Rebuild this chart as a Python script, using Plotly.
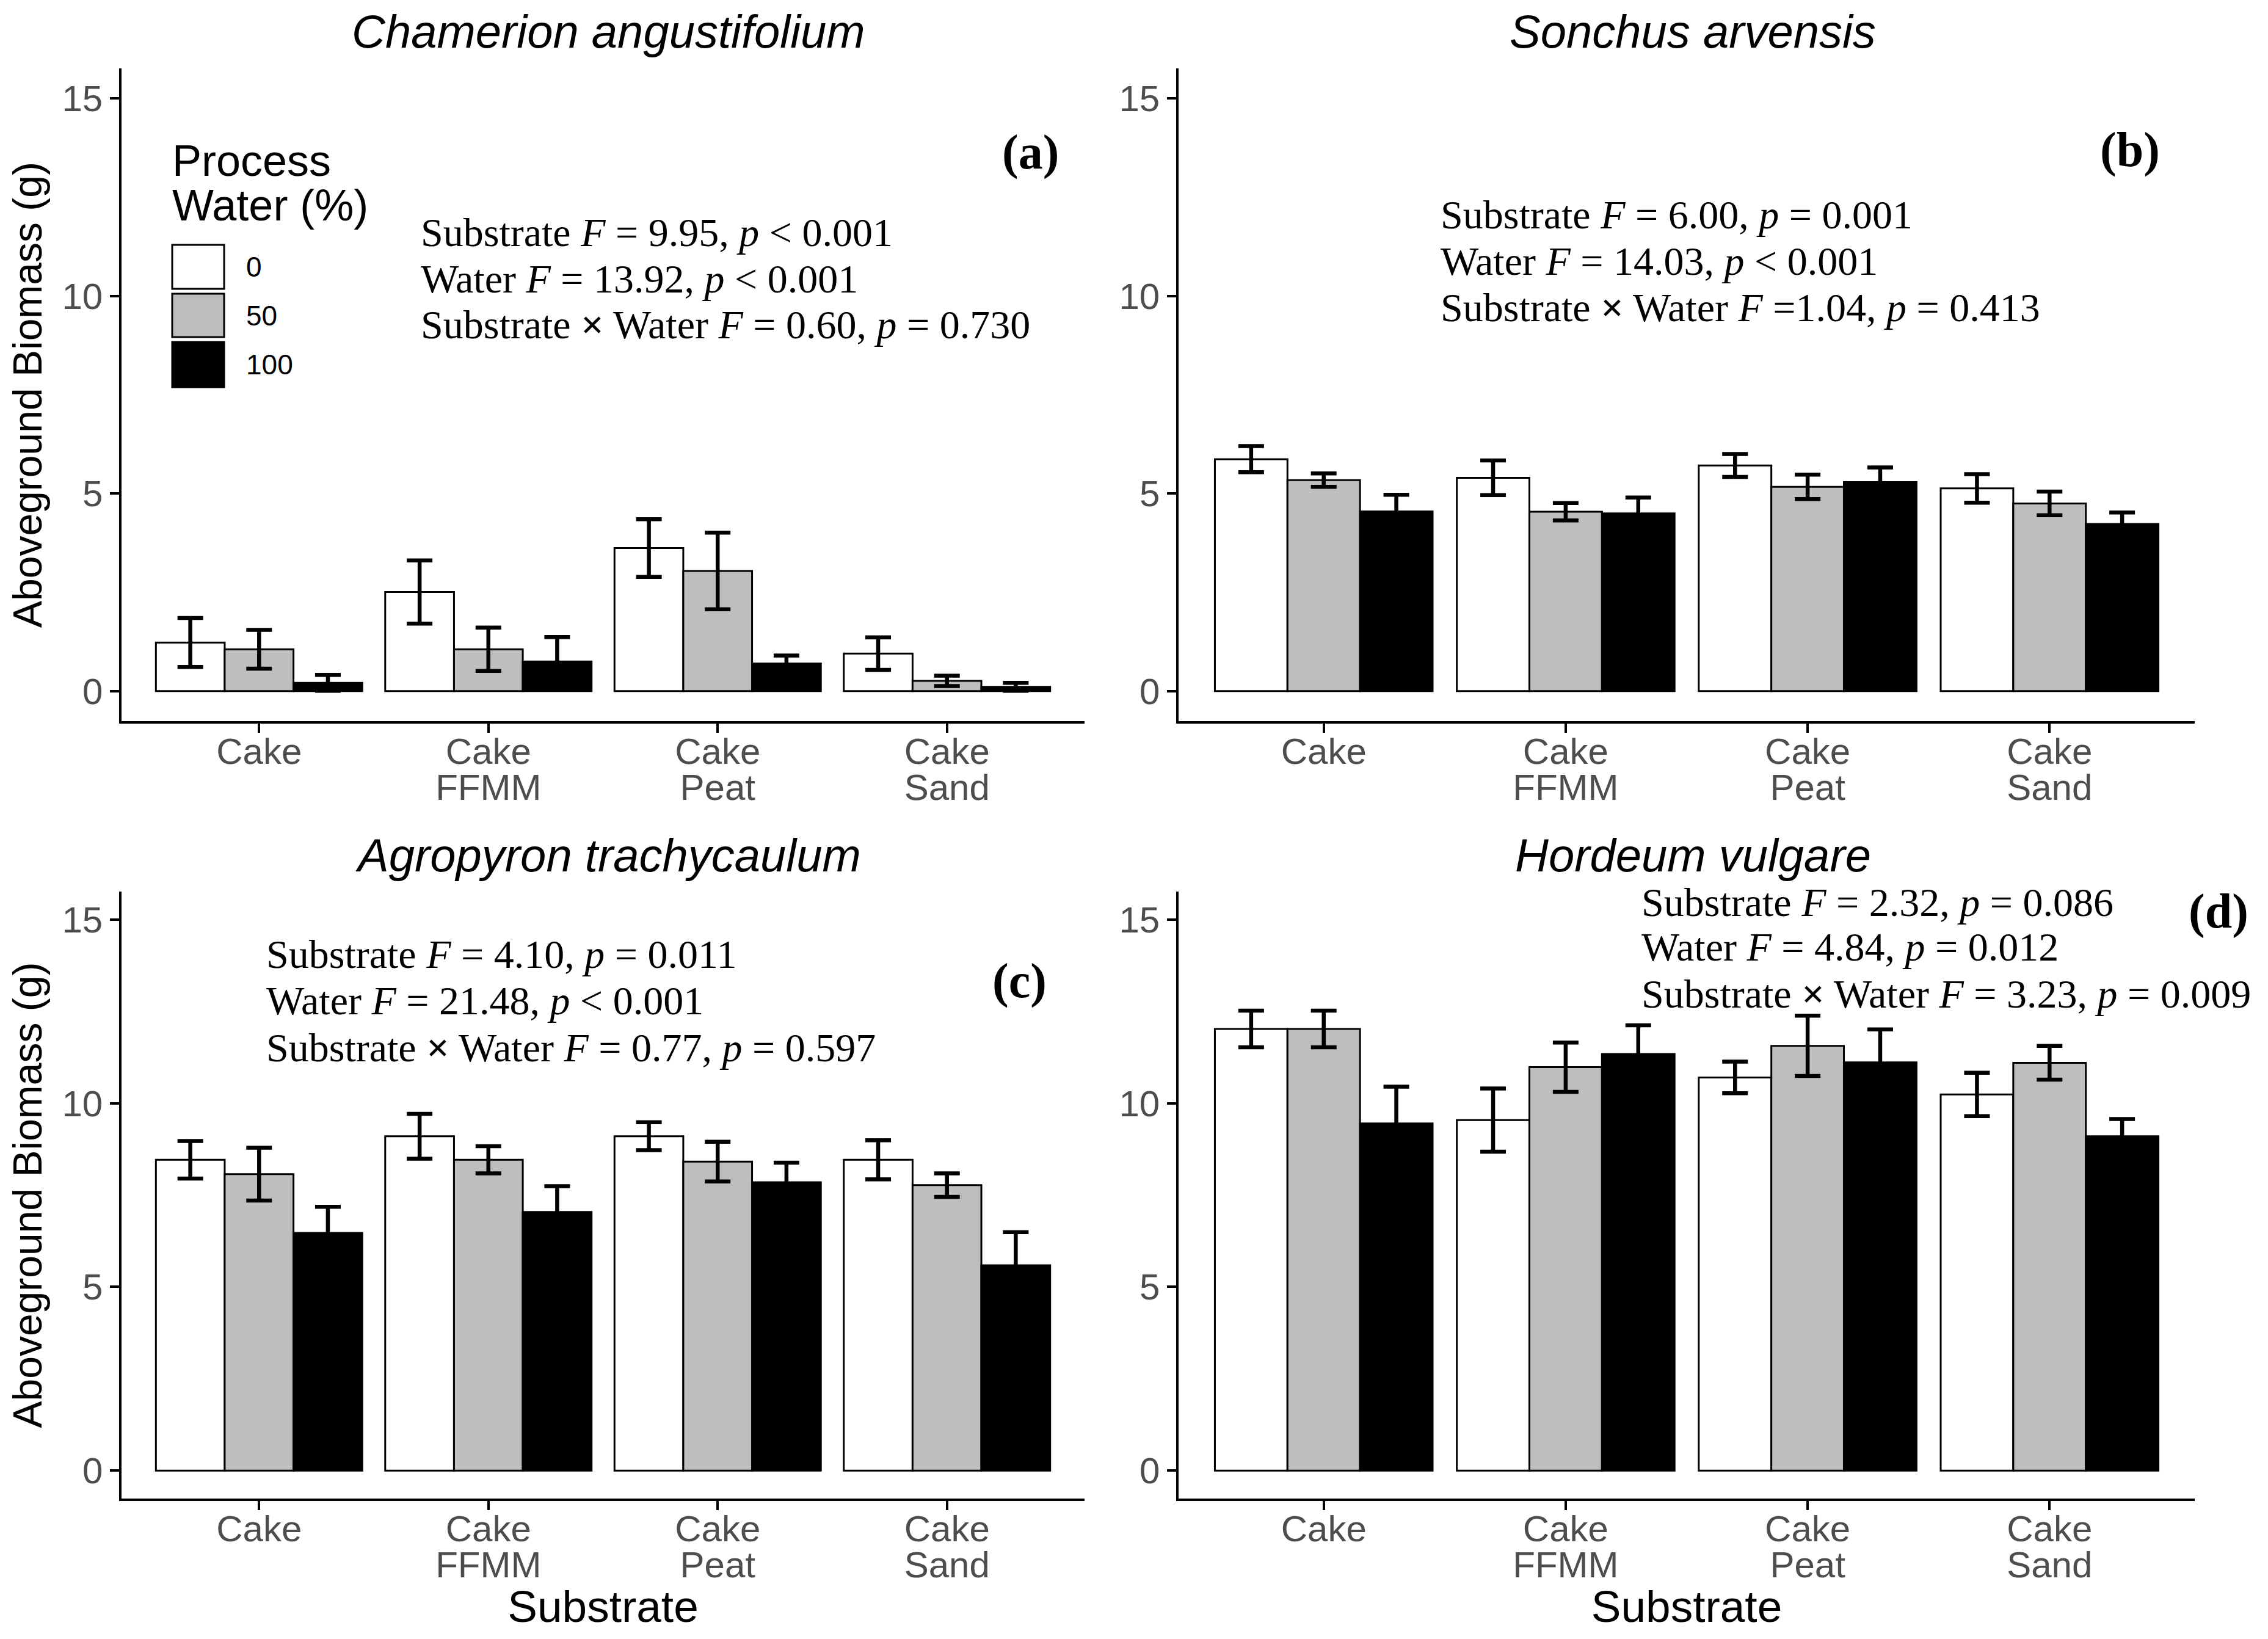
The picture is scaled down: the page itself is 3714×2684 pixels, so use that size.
import plotly.graph_objects as go

W, H = 3714, 2684

substrates = ["Cake", "Cake FFMM", "Cake Peat", "Cake Sand"]
substrate_line1 = ["Cake", "Cake", "Cake", "Cake"]
substrate_line2 = ["", "FFMM", "Peat", "Sand"]
water_levels = ["0", "50", "100"]
water_colors = ["#FFFFFF", "#BEBEBE", "#000000"]
y_ticks = [0, 5, 10, 15]

species = ["Chamerion angustifolium", "Sonchus arvensis",
           "Agropyron trachycaulum", "Hordeum vulgare"]
panel_tags = ["(a)", "(b)", "(c)", "(d)"]

# rows: process water 0, 50, 100 %; columns: substrates
cham_mean = [[1.23, 2.51, 3.62, 0.95], [1.06, 1.06, 3.04, 0.26], [0.21, 0.75, 0.70, 0.11]]
cham_err = [[0.62, 0.80, 0.73, 0.41], [0.49, 0.55, 0.97, 0.13], [0.20, 0.62, 0.20, 0.10]]
sonc_mean = [[5.87, 5.40, 5.71, 5.13], [5.34, 4.54, 5.17, 4.75], [4.55, 4.50, 5.29, 4.23]]
sonc_err = [[0.33, 0.44, 0.29, 0.36], [0.17, 0.22, 0.31, 0.30], [0.42, 0.40, 0.37, 0.29]]
agro_mean = [[8.46, 9.10, 9.10, 8.46], [8.07, 8.46, 8.41, 7.77], [6.47, 7.04, 7.85, 5.59]]
agro_err = [[0.51, 0.61, 0.38, 0.53], [0.72, 0.37, 0.54, 0.32], [0.71, 0.70, 0.53, 0.90]]
hord_mean = [[12.02, 9.54, 10.70, 10.24], [12.02, 10.98, 11.56, 11.10], [9.45, 11.34, 11.11, 9.10]]
hord_err = [[0.50, 0.86, 0.43, 0.59], [0.50, 0.67, 0.82, 0.46], [1.00, 0.78, 0.90, 0.47]]

X = "<b>×</b>"
stats_a = ["Substrate <i>F</i> = 9.95, <i>p</i> < 0.001",
           "Water <i>F</i> = 13.92, <i>p</i> < 0.001",
           "Substrate " + X + " Water <i>F</i> = 0.60, <i>p</i> = 0.730"]
stats_b = ["Substrate <i>F</i> = 6.00, <i>p</i> = 0.001",
           "Water <i>F</i> = 14.03, <i>p</i> < 0.001",
           "Substrate " + X + " Water <i>F</i> =1.04, <i>p</i> = 0.413"]
stats_c = ["Substrate <i>F</i> = 4.10, <i>p</i> = 0.011",
           "Water <i>F</i> = 21.48, <i>p</i> < 0.001",
           "Substrate " + X + " Water <i>F</i> = 0.77, <i>p</i> = 0.597"]
stats_d = ["Substrate <i>F</i> = 2.32, <i>p</i> = 0.086",
           "Water <i>F</i> = 4.84, <i>p</i> = 0.012",
           "Substrate " + X + " Water <i>F</i> = 3.23, <i>p</i> = 0.009"]

means = [cham_mean, sonc_mean, agro_mean, hord_mean]
errs = [cham_err, sonc_err, agro_err, hord_err]
stats = [stats_a, stats_b, stats_c, stats_d]

SANS = "Liberation Sans, Arial, sans-serif"
SERIF = "Liberation Serif, Times New Roman, serif"

def px(x):
    return x / W

def py(y):
    return 1 - y / H

x_dom = [[px(191), px(1768)], [px(1922), px(3586)]]
y_dom = [[py(1173), py(104)], [py(2446), py(1452)]]

fig = go.Figure()
for p in range(4):
    ax = "" if p == 0 else str(p + 1)
    for j in range(3):
        fig.add_trace(go.Bar(
            x=substrates, y=means[p][j], name=water_levels[j],
            offsetgroup=str(j),
            marker=dict(color=water_colors[j], line=dict(color="black", width=3)),
            error_y=dict(type="data", array=errs[p][j], color="black",
                         thickness=6.5, width=21),
            xaxis="x" + ax, yaxis="y" + ax, showlegend=False,
        ))
    # empty trace that registers the axis carrying the second tick-label line
    fig.add_trace(go.Scatter(x=[], y=[], mode="markers", showlegend=False,
                             hoverinfo="skip", xaxis="x" + str(p + 5), yaxis="y" + ax))

layout = dict(
    width=W, height=H,
    margin=dict(l=0, r=0, t=0, b=0),
    paper_bgcolor="white", plot_bgcolor="white",
    barmode="group", bargap=0.1, bargroupgap=0,
    showlegend=False,
)

tickfont = dict(family=SANS, size=60, color="#4D4D4D")
for p in range(4):
    r, c = divmod(p, 2)
    ax = "" if p == 0 else str(p + 1)
    xa = dict(domain=x_dom[c], anchor="y" + ax, type="category",
              range=[-0.6, 3.6], tickvals=substrates, ticktext=substrate_line1,
              showline=True, linecolor="black", linewidth=3.5,
              ticks="outside", ticklen=15, tickwidth=3.5, tickcolor="black",
              tickfont=tickfont, ticklabelstandoff=-21,
              showgrid=False, zeroline=False, automargin=False)
    ya = dict(domain=y_dom[r], anchor="x" + ax, range=[-0.76, 15.76],
              tickvals=y_ticks,
              showline=True, linecolor="black", linewidth=3.5,
              ticks="outside", ticklen=15, tickwidth=3.5, tickcolor="black",
              tickfont=tickfont, showgrid=False, zeroline=False,
              automargin=False)
    if r == 1:
        xa["title"] = dict(text="Substrate", font=dict(family=SANS, size=73, color="black"),
                           standoff=70)
    if c == 0:
        ya["title"] = dict(text="Aboveground Biomass (g)",
                           font=dict(family=SANS, size=66, color="black"), standoff=14)
    layout["xaxis" + ax] = xa
    layout["yaxis" + ax] = ya
    # second line of the substrate tick labels
    layout["xaxis" + str(p + 5)] = dict(
        domain=x_dom[c], anchor="y" + ax, overlaying="x" + ax, side="bottom",
        type="linear", range=[-0.6, 3.6], tickvals=[0, 1, 2, 3],
        ticktext=substrate_line2,
        showline=False, ticks="outside", ticklen=15, tickwidth=1,
        tickcolor="rgba(0,0,0,0)", tickfont=tickfont, ticklabelstandoff=41,
        showgrid=False, zeroline=False, automargin=False)

fig.update_layout(**layout)

annotations = []
# panel titles
title_pos = [(988, 43), (2764, 43), (988, 1392), (2764, 1392)]
for p in range(4):
    annotations.append(dict(
        x=px(title_pos[p][0]), y=py(title_pos[p][1]), xref="paper", yref="paper",
        text="<i>" + species[p] + "</i>", showarrow=False,
        font=dict(family=SANS, size=76, color="black"),
        xanchor="center", yanchor="middle"))

# stats text
stat_left = [679, 2349, 426, 2678]
stat_ys = [[373, 448, 523], [343, 419, 495], [1554, 1630, 1707], [1469, 1542, 1619]]
for p in range(4):
    for k in range(3):
        annotations.append(dict(
            x=px(stat_left[p]), y=py(stat_ys[p][k]), xref="paper", yref="paper",
            text=stats[p][k], showarrow=False,
            font=dict(family=SERIF, size=66, color="black"),
            xanchor="left", yanchor="middle"))

# panel tags
tag_pos = [(1679, 241), (3480, 237), (1661, 1598), (3625, 1484)]
for p in range(4):
    annotations.append(dict(
        x=px(tag_pos[p][0]), y=py(tag_pos[p][1]), xref="paper", yref="paper",
        text="<b>" + panel_tags[p] + "</b>", showarrow=False,
        font=dict(family=SERIF, size=80, color="black"),
        xanchor="center", yanchor="middle"))

# legend (drawn inside panel a)
annotations.append(dict(x=px(272), y=py(255), xref="paper", yref="paper",
                        text="Process", showarrow=False,
                        font=dict(family=SANS, size=72, color="black"),
                        xanchor="left", yanchor="middle"))
annotations.append(dict(x=px(272), y=py(328), xref="paper", yref="paper",
                        text="Water (%)", showarrow=False,
                        font=dict(family=SANS, size=72, color="black"),
                        xanchor="left", yanchor="middle"))
key_rows = [(393, 465), (473, 544), (552, 626)]
shapes = []
for j in range(3):
    y0, y1 = key_rows[j]
    shapes.append(dict(type="rect", xref="paper", yref="paper",
                       x0=px(274), x1=px(359), y0=py(y1), y1=py(y0),
                       fillcolor=water_colors[j], line=dict(color="black", width=3)))
    annotations.append(dict(x=px(393), y=py((y0 + y1) / 2), xref="paper", yref="paper",
                            text=water_levels[j], showarrow=False,
                            font=dict(family=SANS, size=46, color="black"),
                            xanchor="left", yanchor="middle"))

fig.update_layout(annotations=annotations, shapes=shapes)
fig.write_html("out.html")
